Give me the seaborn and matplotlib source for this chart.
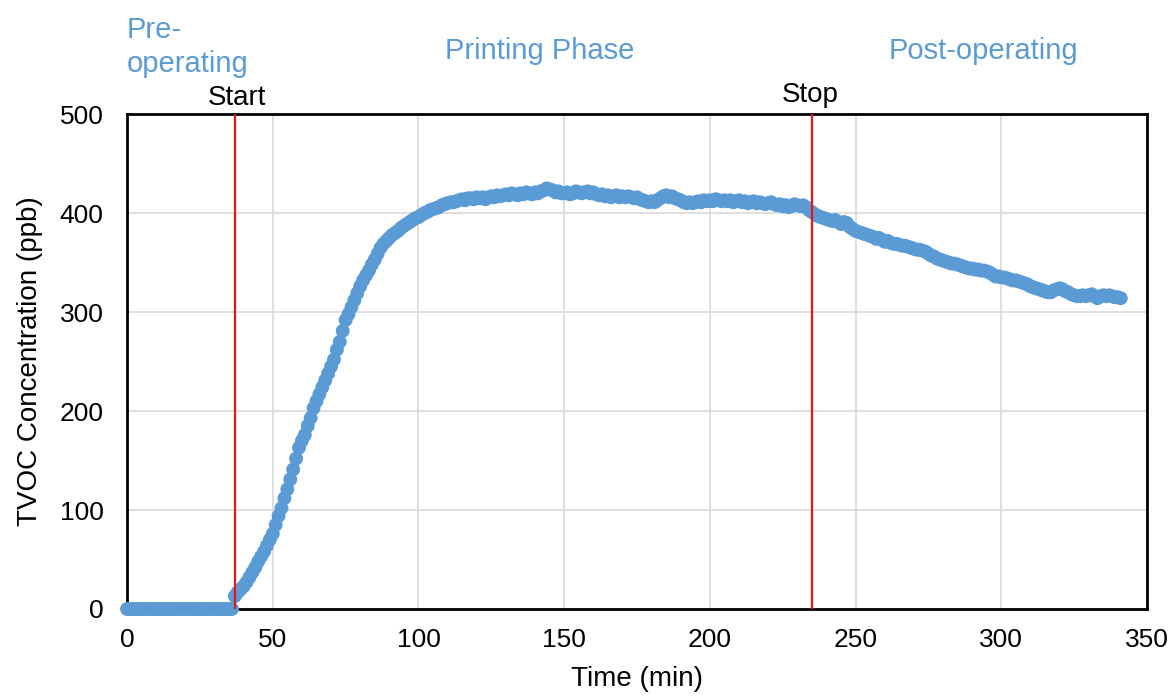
import matplotlib
matplotlib.use("Agg")
import matplotlib.pyplot as plt
import seaborn as sns
import pandas as pd

sns.set_theme(style="whitegrid")
plt.rcParams['font.family'] = ['Liberation Sans', 'DejaVu Sans']

# sampled every minute, 0 .. 341 min
time_min = list(range(0, 342))
tvoc_ppb = [
    0, 0, 0, 0, 0, 0, 0, 0, 0, 0, 0, 0, 0, 0, 0, 0, 0, 0, 0, 0,
    0, 0, 0, 0, 0, 0, 0, 0, 0, 0, 0, 0, 0, 0, 0, 0, 0,
    13, 17, 20, 23, 27, 32, 37, 42, 48, 53, 58, 64, 70, 76,
    85, 94, 102, 112, 121, 131, 141, 152, 163, 170,
    176, 185, 193, 203, 210, 217, 224, 231, 238, 245,
    252, 262, 270, 281, 292, 298, 305, 312, 319, 326,
    332, 337, 342, 348, 353, 359, 365, 369, 372, 375,
    378, 380, 382, 385, 387, 389, 391, 393, 395, 396,
    398, 400, 401, 403, 404, 405, 406, 408, 409, 410,
    411, 411, 412, 413, 414, 413, 415, 415, 414, 416,
    415, 416, 414, 416, 417, 416, 418, 417, 418, 419,
    418, 420, 419, 418, 420, 419, 421, 420, 419, 421,
    420, 422, 423, 425, 424, 423, 421, 422, 420, 420,
    421, 419, 420, 422, 421, 420, 421, 422, 420, 421,
    419, 418, 419, 417, 418, 416, 417, 418, 416, 417,
    416, 417, 416, 415, 416, 414, 413, 412, 411, 412,
    411, 413, 415, 417, 418, 416, 417, 415, 414, 413,
    411, 410, 411, 410, 411, 412, 411, 413, 412, 413,
    412, 414, 413, 412, 413, 412, 413, 411, 412, 413,
    411, 412, 410, 411, 412, 410, 411, 410, 409, 410,
    411, 409, 408, 409, 407, 408, 406, 407, 409, 408,
    407, 408, 406, 403, 401, 399, 397, 396, 395, 394,
    393, 392, 393, 391, 389, 391, 390, 386, 384, 382,
    381, 380, 379, 378, 377, 376, 374, 375, 373, 371,
    372, 370, 369, 369, 368, 367, 367, 366, 365, 364,
    363, 363, 362, 361, 359, 357, 356, 354, 353, 352,
    351, 350, 349, 349, 348, 347, 346, 345, 344, 344,
    343, 343, 342, 342, 341, 340, 338, 336, 336, 335,
    335, 334, 333, 332, 332, 331, 330, 329, 328, 326,
    325, 324, 323, 322, 321, 320, 320, 322, 323, 324,
    323, 321, 320, 318, 317, 316, 316, 317, 316, 317,
    318, 316, 314, 316, 317, 316, 317, 316, 315, 315,
    314,
]
start_min = 37
stop_min = 235

df = pd.DataFrame({"Time": time_min, "TVOC": tvoc_ppb})

blue = "#5B9BD5"
fig = plt.figure(figsize=(11.72, 6.96), dpi=100)
ax = fig.add_axes([0.1084, 0.125, 0.8703, 0.711])

sns.scatterplot(data=df, x="Time", y="TVOC", ax=ax, color=blue, s=100,
                edgecolor="none", zorder=3, clip_on=False)

ax.axvline(start_min, color="#E8141B", lw=1.6, zorder=4)
ax.axvline(stop_min, color="#E8141B", lw=1.6, zorder=4)

ax.set_xlim(0, 350)
ax.set_ylim(0, 500)
ax.set_xticks(range(0, 351, 50))
ax.set_yticks(range(0, 501, 100))
ax.grid(True, color="#d9d9d9", lw=1.2)
ax.set_facecolor("white")
for sp in ax.spines.values():
    sp.set_color("black")
    sp.set_linewidth(2)
    sp.set_zorder(2)
ax.tick_params(axis="both", length=0, labelsize=19, colors="black")
ax.tick_params(axis="y", pad=17)
ax.tick_params(axis="x", pad=14)

ax.set_xlabel("Time (min)", fontsize=20, color="black", labelpad=10)
ax.set_ylabel("TVOC Concentration (ppb)", fontsize=20, color="black", labelpad=12)

ax.text(0, 568, "Pre-\noperating", color=blue, fontsize=21, ha="left",
        va="center", linespacing=1.3, clip_on=False)
ax.text(141.7, 564, "Printing Phase", color=blue, fontsize=21, ha="center",
        va="center", clip_on=False)
ax.text(293.8, 564, "Post-operating", color=blue, fontsize=21, ha="center",
        va="center", clip_on=False)
ax.text(37.7, 516, "Start", color="black", fontsize=20, ha="center",
        va="center", clip_on=False)
ax.text(234.4, 519, "Stop", color="black", fontsize=20, ha="center",
        va="center", clip_on=False)

fig.savefig("out.png", dpi=100, facecolor="white")
